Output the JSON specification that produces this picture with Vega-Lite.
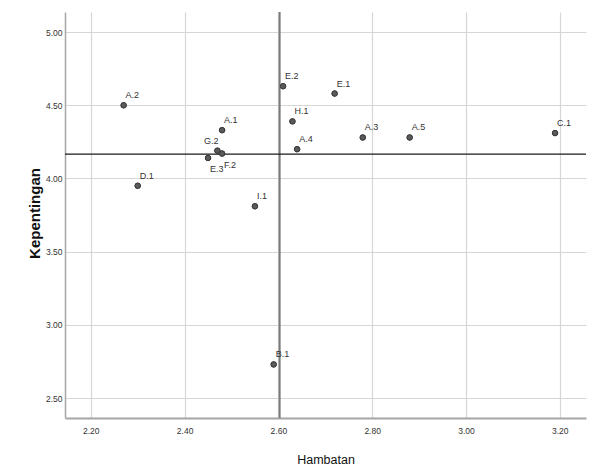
{
  "$schema": "https://vega.github.io/schema/vega-lite/v6.json",
  "width": 521,
  "height": 406,
  "autosize": {"type": "none"},
  "padding": {"left": 65, "top": 12, "right": 4, "bottom": 58},
  "background": "white",
  "config": {
    "view": {"stroke": null},
    "font": "Liberation Sans",
    "axis": {
      "labelFont": "Liberation Sans",
      "titleFont": "Liberation Sans",
      "labelFontSize": 8.5,
      "labelColor": "#333333",
      "gridColor": "#d6d6d6",
      "gridWidth": 1.2,
      "ticks": false,
      "domainColor": "#a6a6a6",
      "domainWidth": 2,
      "titleColor": "#111111"
    }
  },
  "data": {
    "values": [
      {"kode": "A.2", "hambatan": 2.27, "kepentingan": 4.50},
      {"kode": "D.1", "hambatan": 2.30, "kepentingan": 3.95},
      {"kode": "A.1", "hambatan": 2.48, "kepentingan": 4.33},
      {"kode": "G.2", "hambatan": 2.47, "kepentingan": 4.19},
      {"kode": "F.2", "hambatan": 2.48, "kepentingan": 4.17},
      {"kode": "E.3", "hambatan": 2.45, "kepentingan": 4.14},
      {"kode": "I.1", "hambatan": 2.55, "kepentingan": 3.81},
      {"kode": "E.2", "hambatan": 2.61, "kepentingan": 4.63},
      {"kode": "H.1", "hambatan": 2.63, "kepentingan": 4.39},
      {"kode": "A.4", "hambatan": 2.64, "kepentingan": 4.20},
      {"kode": "E.1", "hambatan": 2.72, "kepentingan": 4.58},
      {"kode": "A.3", "hambatan": 2.78, "kepentingan": 4.28},
      {"kode": "A.5", "hambatan": 2.88, "kepentingan": 4.28},
      {"kode": "C.1", "hambatan": 3.19, "kepentingan": 4.31},
      {"kode": "B.1", "hambatan": 2.59, "kepentingan": 2.73}
    ]
  },
  "layer": [
    {
      "mark": {"type": "point", "filled": true, "size": 30, "fill": "#5a5a5a", "stroke": "#333333", "strokeWidth": 0.8, "opacity": 1},
      "encoding": {
        "x": {
          "field": "hambatan", "type": "quantitative", "title": "Hambatan",
          "scale": {"domain": [2.145, 3.256], "nice": false, "zero": false},
          "axis": {
            "values": [2.2, 2.4, 2.6, 2.8, 3.0, 3.2], "format": ".2f",
            "labelPadding": 8, "titleFontSize": 12.5, "titleFontWeight": "normal",
            "titleBaseline": "alphabetic", "titleY": 45
          }
        },
        "y": {
          "field": "kepentingan", "type": "quantitative", "title": "Kepentingan",
          "scale": {"domain": [2.364, 5.137], "nice": false, "zero": false},
          "axis": {
            "values": [2.5, 3.0, 3.5, 4.0, 4.5, 5.0], "format": ".2f",
            "labelPadding": 3, "domainWidth": 1.5,
            "titleFontSize": 15, "titleFontWeight": "bold",
            "titleX": -31, "titleY": 201, "titleAlign": "center", "titleBaseline": "middle", "titleAngle": -90
          }
        }
      }
    },
    {
      "mark": {"type": "rule", "color": "#7a7a7a", "strokeWidth": 2},
      "encoding": {
        "x": {"aggregate": "mean", "field": "hambatan", "type": "quantitative", "title": "Hambatan"}
      }
    },
    {
      "mark": {"type": "rule", "color": "#1a1a1a", "strokeWidth": 1.2},
      "encoding": {
        "y": {"aggregate": "mean", "field": "kepentingan", "type": "quantitative", "title": "Kepentingan"}
      }
    },
    {
      "mark": {"type": "point", "filled": true, "size": 30, "fill": "#5a5a5a", "stroke": "#333333", "strokeWidth": 0.8, "opacity": 1},
      "encoding": {
        "x": {"field": "hambatan", "type": "quantitative", "title": "Hambatan"},
        "y": {"field": "kepentingan", "type": "quantitative", "title": "Kepentingan"}
      }
    },
    {
      "transform": [{"filter": {"not": {"field": "kode", "oneOf": ["E.3", "F.2", "G.2"]}}}],
      "mark": {"type": "text", "align": "left", "baseline": "alphabetic", "dx": 2, "dy": -7, "fontSize": 9, "fill": "#333333", "font": "Liberation Sans"},
      "encoding": {
        "x": {"field": "hambatan", "type": "quantitative", "title": "Hambatan"},
        "y": {"field": "kepentingan", "type": "quantitative", "title": "Kepentingan"},
        "text": {"field": "kode"}
      }
    },
    {
      "transform": [{"filter": {"field": "kode", "oneOf": ["E.3", "F.2"]}}],
      "mark": {"type": "text", "align": "left", "baseline": "alphabetic", "dx": 2, "dy": 14, "fontSize": 9, "fill": "#333333", "font": "Liberation Sans"},
      "encoding": {
        "x": {"field": "hambatan", "type": "quantitative", "title": "Hambatan"},
        "y": {"field": "kepentingan", "type": "quantitative", "title": "Kepentingan"},
        "text": {"field": "kode"}
      }
    },
    {
      "transform": [{"filter": {"field": "kode", "oneOf": ["G.2"]}}],
      "mark": {"type": "text", "align": "right", "baseline": "alphabetic", "dx": 1, "dy": -7, "fontSize": 9, "fill": "#333333", "font": "Liberation Sans"},
      "encoding": {
        "x": {"field": "hambatan", "type": "quantitative", "title": "Hambatan"},
        "y": {"field": "kepentingan", "type": "quantitative", "title": "Kepentingan"},
        "text": {"field": "kode"}
      }
    }
  ]
}
